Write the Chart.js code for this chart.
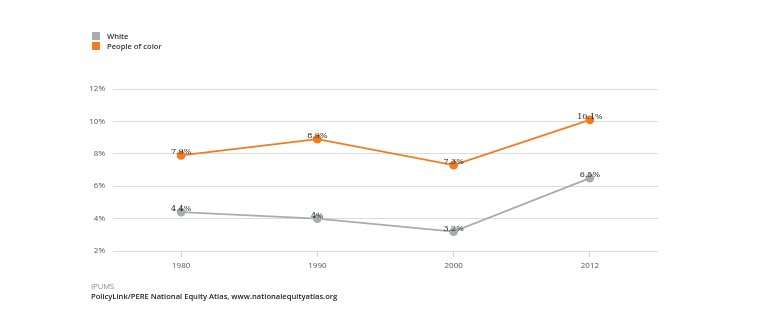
<!DOCTYPE html>
<html>
<head>
<meta charset="utf-8">
<script src="https://cdn.jsdelivr.net/npm/chart.js@4"></script>
<style>
  body { margin: 0; background: #fff; }
  #wrap { position: relative; width: 780px; height: 330px; }
  #lineChart { position: absolute; left: 0; top: 0; }
  .legend { position: absolute; left: 92px; top: 31px; font: 600 7.6px "Open Sans", sans-serif; color: #333; }
  .legend div { height: 10px; line-height: 10px; }
  .legend span { display: inline-block; width: 8px; height: 8px; margin-right: 7px; vertical-align: -1px; }
  .source { position: absolute; left: 91px; top: 281px; font: 7.6px "Open Sans", sans-serif; line-height: 10px; }
  .source .s1 { color: #888; }
  .source .s2 { color: #222; font-weight: 600; }
</style>
</head>
<body>
<div id="wrap">
  <canvas id="lineChart" width="780" height="330"></canvas>
  <div class="legend">
    <div><span style="background:#a9abb0"></span>White</div>
    <div><span style="background:#f47b20"></span>People of color</div>
  </div>
  <div class="source">
    <div class="s1">IPUMS</div>
    <div class="s2">PolicyLink/PERE National Equity Atlas, www.nationalequityatlas.org</div>
  </div>
</div>
<script>
// Unemployment rate by race, share of workforce (%)
const years = ['1980', '1990', '2000', '2012'];
const white = [4.4, 4.0, 3.2, 6.5];
const peopleOfColor = [7.9, 8.9, 7.3, 10.1];
const whiteLabels = ['4.4%', '4%', '3.2%', '6.5%'];
const pocLabels = ['7.9%', '8.9%', '7.3%', '10.1%'];

// Write the value text just above each point
const pointLabels = {
  id: 'pointLabels',
  afterDatasetsDraw(chart) {
    const ctx = chart.ctx;
    ctx.save();
    ctx.font = '8px "DejaVu Serif", serif';
    ctx.fillStyle = '#222';
    ctx.textAlign = 'center';
    ctx.textBaseline = 'bottom';
    chart.data.datasets.forEach((ds, i) => {
      chart.getDatasetMeta(i).data.forEach((pt, j) => {
        ctx.fillText(ds.valueLabels[j], pt.x, pt.y + 1);
      });
    });
    ctx.restore();
  }
};

new Chart(document.getElementById('lineChart'), {
  type: 'line',
  data: {
    labels: years,
    datasets: [
      {
        label: 'White',
        data: white,
        valueLabels: whiteLabels,
        borderColor: '#a9abb0',
        backgroundColor: '#a9abb0',
        borderWidth: 1.8,
        pointRadius: 3.5,
        tension: 0
      },
      {
        label: 'People of color',
        data: peopleOfColor,
        valueLabels: pocLabels,
        borderColor: '#f47b20',
        backgroundColor: '#f47b20',
        borderWidth: 1.8,
        pointRadius: 3.5,
        tension: 0
      }
    ]
  },
  options: {
    responsive: false,
    animation: false,
    layout: { padding: { top: 89, right: 122, bottom: 55, left: 0 } },
    plugins: {
      legend: { display: false },
      tooltip: { enabled: false }
    },
    scales: {
      x: {
        offset: true,
        afterFit(scale) { scale.height = 24; },
        grid: {
          offset: false,
          drawOnChartArea: false,
          drawTicks: true,
          tickLength: 6,
          color: '#ccd1d9'
        },
        border: { display: false },
        ticks: {
          color: '#555',
          padding: 4,
          font: { family: 'Open Sans', size: 8 }
        }
      },
      y: {
        min: 2,
        max: 12,
        afterFit(scale) { scale.width = 113; },
        grid: { color: '#dcdcdc', drawTicks: false },
        border: { display: false },
        ticks: {
          stepSize: 2,
          padding: 8,
          color: '#555',
          font: { family: 'Open Sans', size: 8 },
          callback: v => v + '%'
        }
      }
    }
  },
  plugins: [pointLabels]
});
</script>
</body>
</html>
